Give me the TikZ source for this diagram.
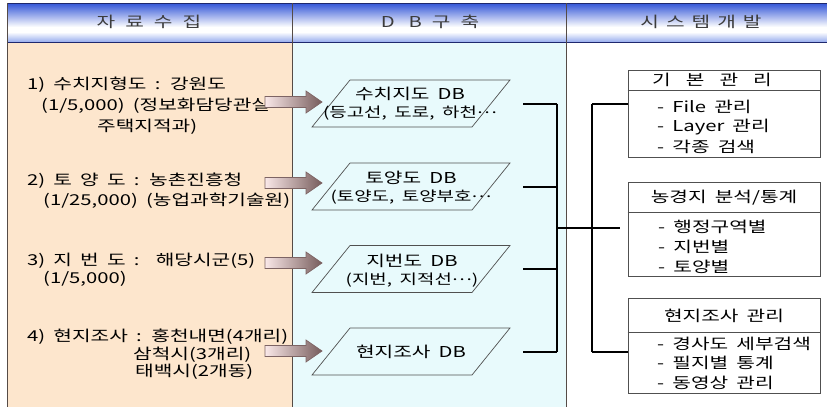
\documentclass[tikz,border=0pt]{standalone}
\usepackage{fontspec}
\setmainfont{Noto Sans CJK KR}[FakeStretch=1.35,WordSpace=1.8]
\definecolor{peach}{RGB}{253,230,205}
\definecolor{cyanbg}{RGB}{232,250,252}
\definecolor{hdtop}{RGB}{50,85,215}
\definecolor{hdbot}{RGB}{150,172,238}
\definecolor{hdline}{RGB}{30,40,110}
\definecolor{colline}{RGB}{85,75,70}
\definecolor{boxline}{RGB}{80,80,80}
\definecolor{arrL}{RGB}{250,232,232}
\definecolor{arrR}{RGB}{118,92,92}
\definecolor{arrD}{RGB}{125,100,100}
\definecolor{hdtext}{RGB}{60,60,60}
\newcommand{\hg}[1][10pt]{\hspace{#1}}
\newcommand{\mdots}{\raisebox{0.3em}{…}}
\tikzset{
  hdtxt/.style={text=hdtext, inner sep=0pt},
  lt/.style={anchor=west, inner sep=0pt},
  dbshape/.style={draw=boxline, line width=0.7pt, fill=cyanbg},
  dbtxt/.style={inner sep=0pt, align=center},
  rbox/.style={draw=boxline, line width=0.8pt, fill=white, minimum width=192pt, inner sep=0pt},
  conn/.style={line width=2pt, black},
  blockarr/.style={left color=arrL, right color=arrR, draw=arrD, line width=0.7pt},
}
\begin{document}
\begin{tikzpicture}[x=1pt,y=-1pt,font=\fontsize{15}{18}\selectfont]
\useasboundingbox (0,0) rectangle (827,407);
% backgrounds
\fill[peach] (7,42) rectangle (292,407);
\fill[cyanbg] (292,42) rectangle (566,407);
\fill[white] (566,42) rectangle (827,407);
% header
\shade[top color=hdtop, bottom color=white] (7,3) rectangle (827,27);
\fill[white] (7,27) rectangle (827,32);
\shade[top color=white, bottom color=hdbot] (7,32) rectangle (827,42);
\draw[hdline, line width=1pt] (7,3) -- (827,3);
\draw[hdline, line width=1pt] (7,42) -- (827,42);
\draw[colline, line width=1pt] (7,3) -- (7,407);
\draw[colline, line width=1pt] (292,3) -- (292,407);
\draw[colline, line width=1pt] (566,3) -- (566,407);
\node[hdtxt] (h1) at (149,22) {자\hg 료\hg 수\hg 집};
\node[hdtxt] (h2) at (430,22) {D\hg[14pt]B\hg 구\hg 축};
\node[hdtxt] (h3) at (701,22) {시\hg[7pt]스\hg[7pt]템\hg[7pt]개\hg[7pt]발};
% left texts
\node[lt] (l11) at (27,85) {1) 수치지형도 : 강원도};
\node[lt] (l12) at (41,106) {(1/5,000) (정보화담당관실};
\node[lt] (l13) at (97,127) {주택지적과)};
\node[lt] (l21) at (27,181) {2) 토 양 도 : 농촌진흥청};
\node[lt] (l22) at (43,201) {(1/25,000) (농업과학기술원)};
\node[lt] (l31) at (27,261) {3) 지 번 도 :\ \ 해당시군(5)};
\node[lt] (l32) at (43,279) {(1/5,000)};
\node[lt] (l41) at (27,337) {4) 현지조사 : 홍천내면(4개리)};
\node[lt] (l42) at (133,355) {삼척시(3개리)};
\node[lt] (l43) at (135,372) {태백시(2개동)};
% block arrows
\foreach \y in {102,183,263,351}{
  \shade[blockarr] (265,\y-5.5) -- (306,\y-5.5) -- (306,\y-11) -- (322,\y)
     -- (306,\y+11) -- (306,\y+5.5) -- (265,\y+5.5) -- cycle;
}
% DB parallelograms (drawn round named centre coordinates)
\foreach \c/\yy in {p1/103.5,p2/186.5,p3/269,p4/351.5}{
  \coordinate (\c) at (411,\yy);
  \draw[dbshape] (\c) ++(-99,23.5) -- ++(160,0) -- ++(38,-47) -- ++(-160,0) -- cycle;
}
\node[dbtxt] (t1) at (410,104) {수치지도 DB\\{\fontsize{14}{17}\selectfont(등고선, 도로, 하천\mdots}};
\node[dbtxt] (t2) at (411,188) {토양도 DB\\{\fontsize{14}{17}\selectfont(토양도, 토양부호\mdots}};
\node[dbtxt] (t3) at (412,271) {지번도 DB\\{\fontsize{14}{17}\selectfont(지번, 지적선\mdots)}};
\node[dbtxt] (t4) at (411,352) {현지조사 DB};
% right boxes
\node[rbox, minimum height=87pt] (r1) at (724,113.5) {};
\node[rbox, minimum height=94pt] (r2) at (724,229) {};
\node[rbox, minimum height=95pt] (r3) at (724,345.5) {};
\draw[boxline, line width=0.8pt] (r1.west |- 0,90) -- (r1.east |- 0,90);
\draw[boxline, line width=0.8pt] (r2.west |- 0,212) -- (r2.east |- 0,212);
\draw[boxline, line width=0.8pt] (r3.west |- 0,332) -- (r3.east |- 0,332);
\node[inner sep=0pt] (r1t) at (712,80) {기\hg[15pt]본\hg[15pt]관\hg[15pt]리};
\node[lt] (r1a) at (657,107) {- File 관리};
\node[lt] (r1b) at (657,127) {- Layer 관리};
\node[lt] (r1c) at (657,147) {- 각종 검색};
\node[inner sep=0pt] (r2t) at (724,198) {농경지 분석/통계};
\node[lt] (r2a) at (658,227) {- 행정구역별};
\node[lt] (r2b) at (658,247) {- 지번별};
\node[lt] (r2c) at (658,267) {- 토양별};
\node[inner sep=0pt] (r3t) at (724,316) {현지조사 관리};
\node[lt] (r3a) at (657,344) {- 경사도 세부검색};
\node[lt] (r3b) at (657,363) {- 필지별 통계};
\node[lt] (r3c) at (657,383) {- 동영상 관리};
% connectors
\coordinate (bus) at (557,0);
\coordinate (bus2) at (592,0);
\coordinate (mid) at (557,227.5);
\foreach \p in {p1,p2,p3,p4}{
  \draw[conn] ([xshift=112pt]\p) -- (\p -| bus);
}
\draw[conn] (p1 -| bus) -- (p4 -| bus);
\draw[conn] (mid) -- ([xshift=-8pt]r2.west |- mid);
\draw[conn] (bus2 |- p1) -- (bus2 |- p4);
\draw[conn] (bus2 |- p1) -- (r1.west |- p1);
\draw[conn] (bus2 |- p4) -- (r3.west |- p4);
\end{tikzpicture}
\end{document}
